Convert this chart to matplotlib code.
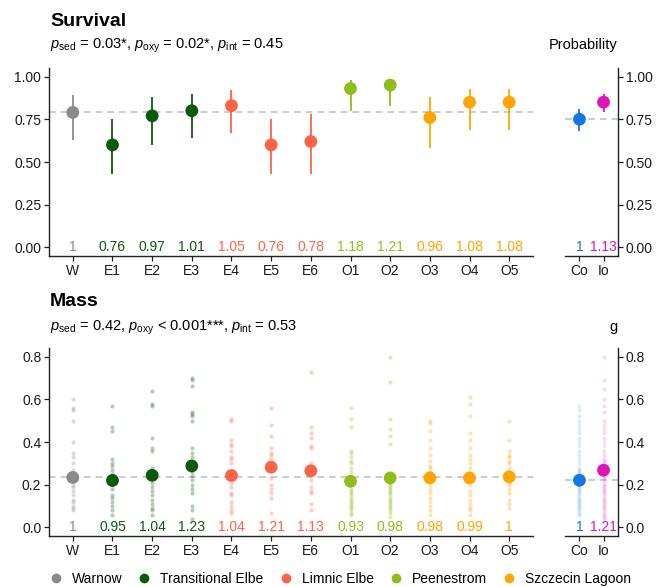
import matplotlib.pyplot as plt
from matplotlib.lines import Line2D

plt.rcParams["font.family"] = ["Liberation Sans", "DejaVu Sans"]
plt.rcParams["mathtext.fontset"] = "custom"
plt.rcParams["mathtext.rm"] = "Liberation Sans"
plt.rcParams["mathtext.it"] = "Liberation Sans:italic"

# sites and colours
sites = ["W", "E1", "E2", "E3", "E4", "E5", "E6", "O1", "O2", "O3", "O4", "O5"]
site_group = ["Warnow", "Transitional Elbe", "Transitional Elbe", "Transitional Elbe",
              "Limnic Elbe", "Limnic Elbe", "Limnic Elbe", "Peenestrom", "Peenestrom",
              "Szczecin Lagoon", "Szczecin Lagoon", "Szczecin Lagoon"]
groups = ["Warnow", "Transitional Elbe", "Limnic Elbe", "Peenestrom", "Szczecin Lagoon"]
group_colors = {"Warnow": "#8a8a8a", "Transitional Elbe": "#0b5a0b",
                "Limnic Elbe": "#ff6347", "Peenestrom": "#8fbd1a",
                "Szczecin Lagoon": "#ffa500"}
ctrl = ["Co", "Io"]
ctrl_colors = ["#1676e4", "#e012b8"]

# survival probability (estimate, lower, upper) and relative labels
surv_mean = [0.79, 0.60, 0.77, 0.80, 0.83, 0.60, 0.62, 0.93, 0.95, 0.76, 0.85, 0.85]
surv_lo = [0.63, 0.43, 0.60, 0.64, 0.67, 0.43, 0.43, 0.80, 0.83, 0.58, 0.69, 0.69]
surv_hi = [0.89, 0.75, 0.88, 0.90, 0.92, 0.75, 0.78, 0.98, 0.98, 0.88, 0.93, 0.93]
surv_lab = ["1", "0.76", "0.97", "1.01", "1.05", "0.76", "0.78", "1.18", "1.21",
            "0.96", "1.08", "1.08"]
ctrl_surv_mean = [0.75, 0.85]
ctrl_surv_lo = [0.68, 0.79]
ctrl_surv_hi = [0.81, 0.90]
ctrl_surv_lab = ["1", "1.13"]

# mass (g): group means, relative labels and individual values
mass_mean = [0.234, 0.220, 0.244, 0.288, 0.243, 0.282, 0.265, 0.216, 0.232, 0.232,
             0.232, 0.237]
mass_lab = ["1", "0.95", "1.04", "1.23", "1.04", "1.21", "1.13", "0.93", "0.98",
            "0.98", "0.99", "1"]
ctrl_mass_mean = [0.221, 0.268]
ctrl_mass_lab = ["1", "1.21"]

mass_W = [0.60, 0.56, 0.55, 0.50, 0.40, 0.35, 0.33, 0.30, 0.27, 0.25, 0.22, 0.20,
          0.19, 0.17, 0.15, 0.13, 0.12, 0.10, 0.09, 0.08]
mass_E1 = [0.57, 0.47, 0.45, 0.32, 0.30, 0.29, 0.27, 0.25, 0.23, 0.20, 0.18, 0.15,
           0.14, 0.12, 0.10, 0.08, 0.06]
mass_E2 = [0.64, 0.58, 0.57, 0.42, 0.37, 0.36, 0.28, 0.26, 0.21, 0.19, 0.17, 0.15,
           0.13, 0.11, 0.09, 0.08, 0.06]
mass_E3 = [0.70, 0.69, 0.66, 0.54, 0.53, 0.52, 0.50, 0.37, 0.35, 0.33, 0.26, 0.24,
           0.22, 0.20, 0.18, 0.16, 0.10, 0.08, 0.04]
mass_E4 = [0.51, 0.50, 0.41, 0.39, 0.38, 0.36, 0.33, 0.32, 0.30, 0.25, 0.21, 0.19,
           0.16, 0.15, 0.12, 0.10, 0.08, 0.07]
mass_E5 = [0.56, 0.48, 0.43, 0.37, 0.35, 0.34, 0.32, 0.30, 0.23, 0.20, 0.18, 0.16,
           0.14, 0.07]
mass_E6 = [0.73, 0.47, 0.44, 0.42, 0.38, 0.37, 0.30, 0.28, 0.22, 0.19, 0.17, 0.16,
           0.11, 0.08]
mass_O1 = [0.56, 0.51, 0.47, 0.36, 0.35, 0.33, 0.31, 0.30, 0.28, 0.26, 0.24, 0.20,
           0.18, 0.17, 0.16, 0.15, 0.14, 0.13, 0.12, 0.11, 0.10, 0.09, 0.08, 0.07, 0.06]
mass_O2 = [0.80, 0.68, 0.51, 0.46, 0.43, 0.39, 0.21, 0.20, 0.19, 0.18, 0.17, 0.16,
           0.15, 0.14, 0.13, 0.12, 0.11, 0.10, 0.09, 0.08, 0.07, 0.05]
mass_O3 = [0.50, 0.49, 0.45, 0.41, 0.37, 0.34, 0.31, 0.29, 0.28, 0.26, 0.24, 0.20,
           0.18, 0.16, 0.14, 0.12, 0.10, 0.08, 0.06]
mass_O4 = [0.61, 0.58, 0.52, 0.44, 0.41, 0.37, 0.34, 0.32, 0.30, 0.28, 0.25, 0.20,
           0.17, 0.15, 0.13, 0.11, 0.09, 0.08, 0.06]
mass_O5 = [0.50, 0.41, 0.36, 0.34, 0.33, 0.31, 0.30, 0.28, 0.26, 0.21, 0.20, 0.18,
           0.16, 0.13, 0.11, 0.09]
mass_Co = [0.57, 0.55, 0.52, 0.50, 0.48, 0.46, 0.44, 0.42, 0.40, 0.38, 0.36, 0.34,
           0.32, 0.30, 0.28, 0.27, 0.26, 0.25, 0.24, 0.23, 0.21, 0.20, 0.19, 0.18,
           0.17, 0.16, 0.15, 0.14, 0.13, 0.12, 0.11, 0.10, 0.09, 0.08, 0.07, 0.06]
mass_Io = [0.80, 0.69, 0.65, 0.60, 0.57, 0.54, 0.50, 0.48, 0.46, 0.44, 0.42, 0.40,
           0.38, 0.36, 0.34, 0.32, 0.31, 0.30, 0.29, 0.28, 0.26, 0.25, 0.24, 0.23,
           0.22, 0.21, 0.20, 0.19, 0.18, 0.17, 0.16, 0.15, 0.14, 0.13, 0.12, 0.11,
           0.10, 0.09, 0.08, 0.07, 0.06, 0.05, 0.04]
mass_points = [mass_W, mass_E1, mass_E2, mass_E3, mass_E4, mass_E5, mass_E6,
               mass_O1, mass_O2, mass_O3, mass_O4, mass_O5]
ctrl_mass_points = [mass_Co, mass_Io]

site_colors = [group_colors[g] for g in site_group]
xs = list(range(1, len(sites) + 1))
xc = [1, 2]

W_, H_ = 657, 587
fig = plt.figure(figsize=(W_ / 100, H_ / 100), dpi=100)


def box(l, t, r, b):
    return [l / W_, 1 - b / H_, (r - l) / W_, (b - t) / H_]


ax1 = fig.add_axes(box(49, 68, 533, 256))
ax1r = fig.add_axes(box(565, 68, 618, 256))
ax2 = fig.add_axes(box(49, 348, 533, 536))
ax2r = fig.add_axes(box(565, 348, 618, 536))


def style(ax, right=False):
    ax.spines["top"].set_visible(False)
    if right:
        ax.spines["left"].set_visible(False)
        ax.yaxis.tick_right()
    else:
        ax.spines["right"].set_visible(False)
    for s in ["bottom", "left", "right"]:
        ax.spines[s].set_linewidth(1.0)
        ax.spines[s].set_color("#222222")
    ax.tick_params(length=3.5, width=0.9, color="#222222", labelsize=10,
                   labelcolor="#1a1a1a", pad=2)


# survival panel
ax1.axhline(surv_mean[0], color="#c4c4c4", ls=(0, (4, 3)), lw=1.2, zorder=1)
ax1.vlines(xs, surv_lo, surv_hi, colors=site_colors, lw=1.3, zorder=2)
ax1.scatter(xs, surv_mean, s=85, c=site_colors, zorder=3, linewidths=0)
for x, lab, c in zip(xs, surv_lab, site_colors):
    ax1.text(x, 0, lab, color=c, ha="center", va="center", fontsize=10)
ax1.set_xlim(0.4, 12.6)
ax1.set_ylim(-0.05, 1.05)
ax1.set_xticks(xs)
ax1.set_xticklabels(sites)
ax1.set_yticks([0, 0.25, 0.5, 0.75, 1.0])
ax1.set_yticklabels(["0.00", "0.25", "0.50", "0.75", "1.00"])
style(ax1)

ax1r.axhline(ctrl_surv_mean[0], color="#9fcbf5", ls=(0, (4, 3)), lw=1.2, zorder=1)
ax1r.vlines(xc, ctrl_surv_lo, ctrl_surv_hi, colors=ctrl_colors, lw=1.3, zorder=2)
ax1r.scatter(xc, ctrl_surv_mean, s=85, c=ctrl_colors, zorder=3, linewidths=0)
for x, lab, c in zip(xc, ctrl_surv_lab, ctrl_colors):
    ax1r.text(x, 0, lab, color=c, ha="center", va="center", fontsize=10)
ax1r.set_xlim(0.4, 2.6)
ax1r.set_ylim(-0.05, 1.05)
ax1r.set_xticks(xc)
ax1r.set_xticklabels(ctrl)
ax1r.set_yticks([0, 0.25, 0.5, 0.75, 1.0])
ax1r.set_yticklabels(["0.00", "0.25", "0.50", "0.75", "1.00"])
style(ax1r, right=True)

# mass panel
ax2.axhline(mass_mean[0], color="#c4c4c4", ls=(0, (4, 3)), lw=1.2, zorder=1)
for x, pts, c in zip(xs, mass_points, site_colors):
    ax2.scatter([x] * len(pts), pts, s=9, color=c, alpha=0.3, linewidths=0, zorder=2)
ax2.scatter(xs, mass_mean, s=85, c=site_colors, zorder=3, linewidths=0)
for x, lab, c in zip(xs, mass_lab, site_colors):
    ax2.text(x, 0, lab, color=c, ha="center", va="center", fontsize=10)
ax2.set_xlim(0.4, 12.6)
ax2.set_ylim(-0.04, 0.84)
ax2.set_xticks(xs)
ax2.set_xticklabels(sites)
ax2.set_yticks([0, 0.2, 0.4, 0.6, 0.8])
ax2.set_yticklabels(["0.0", "0.2", "0.4", "0.6", "0.8"])
style(ax2)

ax2r.axhline(ctrl_mass_mean[0], color="#9fcbf5", ls=(0, (4, 3)), lw=1.2, zorder=1)
for x, pts, c in zip(xc, ctrl_mass_points, ctrl_colors):
    ax2r.scatter([x] * len(pts), pts, s=9, color=c, alpha=0.15, linewidths=0, zorder=2)
ax2r.scatter(xc, ctrl_mass_mean, s=85, c=ctrl_colors, zorder=3, linewidths=0)
for x, lab, c in zip(xc, ctrl_mass_lab, ctrl_colors):
    ax2r.text(x, 0, lab, color=c, ha="center", va="center", fontsize=10)
ax2r.set_xlim(0.4, 2.6)
ax2r.set_ylim(-0.04, 0.84)
ax2r.set_xticks(xc)
ax2r.set_xticklabels(ctrl)
ax2r.set_yticks([0, 0.2, 0.4, 0.6, 0.8])
ax2r.set_yticklabels(["0.0", "0.2", "0.4", "0.6", "0.8"])
style(ax2r, right=True)

# titles and subtitles
fig.text(50 / W_, 1 - 21 / H_, "Survival", fontsize=14, fontweight="bold", va="center")
fig.text(50 / W_, 1 - 49 / H_,
         r"$p_\mathrm{sed}$ = 0.03*, $p_\mathrm{oxy}$ = 0.02*, $p_\mathrm{int}$ = 0.45",
         fontsize=10.5, va="baseline")
fig.text(618 / W_, 1 - 49 / H_, "Probability", fontsize=10.5, ha="right", va="baseline")

fig.text(50 / W_, 1 - 302 / H_, "Mass", fontsize=14, fontweight="bold", va="center")
fig.text(50 / W_, 1 - 331 / H_,
         r"$p_\mathrm{sed}$ = 0.42, $p_\mathrm{oxy}$ < 0.001***, $p_\mathrm{int}$ = 0.53",
         fontsize=10.5, va="baseline")
fig.text(618 / W_, 1 - 331 / H_, "g", fontsize=10.5, ha="right", va="baseline")

# legend
handles = [Line2D([], [], ls="", marker="o", markersize=7, markeredgewidth=0,
                  color=group_colors[g]) for g in groups]
fig.legend(handles, groups, loc="center", bbox_to_anchor=(340 / W_, 1 - 579 / H_),
           ncol=5, frameon=False, fontsize=10, handlelength=1.0, handletextpad=0.65,
           columnspacing=1.1, borderpad=0)

fig.savefig("out.png", dpi=100)
